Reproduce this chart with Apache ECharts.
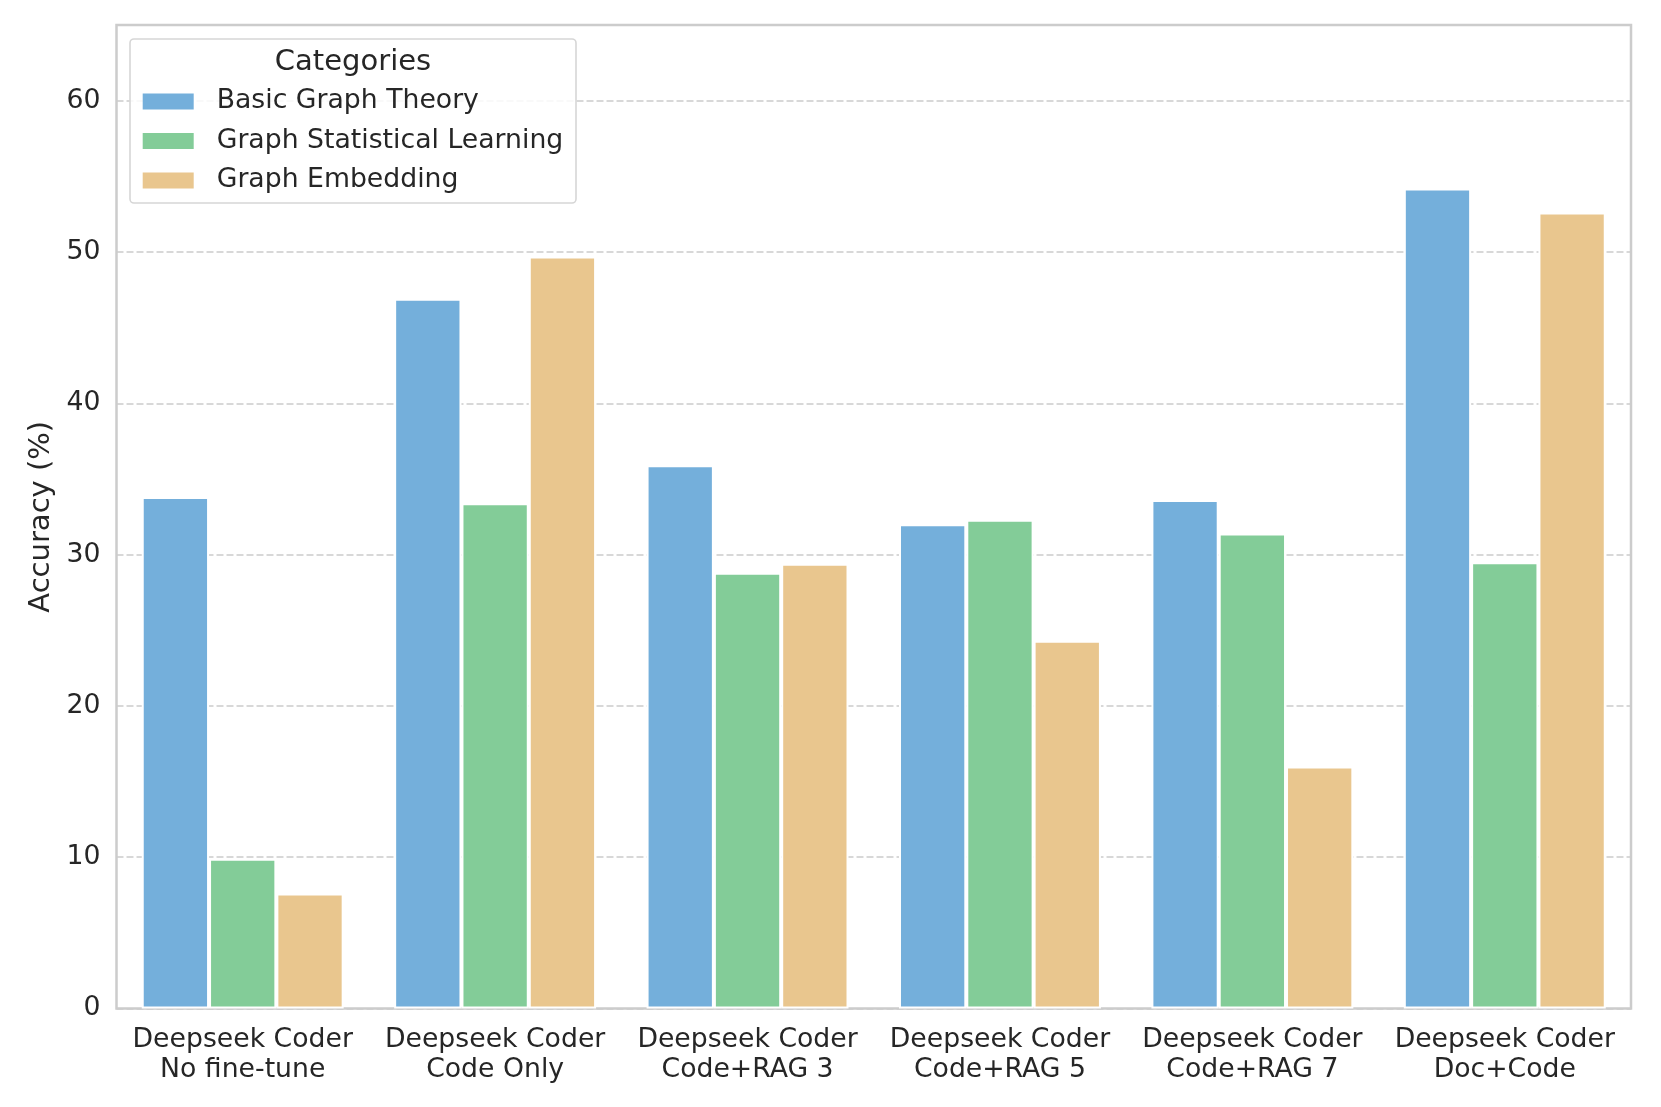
<!DOCTYPE html>
<html>
<head>
<meta charset="utf-8">
<script src="https://cdn.jsdelivr.net/npm/echarts@6/dist/echarts.min.js"></script>
<style>html,body{margin:0;padding:0;background:#fff}#c{width:1661px;height:1107px}</style>
</head>
<body>
<div id="c"></div>
<script>
const categories = [
  'Deepseek Coder\nNo fine-tune',
  'Deepseek Coder\nCode Only',
  'Deepseek Coder\nCode+RAG 3',
  'Deepseek Coder\nCode+RAG 5',
  'Deepseek Coder\nCode+RAG 7',
  'Deepseek Coder\nDoc+Code'
];
const basicGraphTheory = [33.8, 46.9, 35.9, 32.0, 33.6, 54.2];
const graphStatLearning = [9.9, 33.4, 28.8, 32.3, 31.4, 29.5];
const graphEmbedding = [7.6, 49.7, 29.4, 24.3, 16.0, 52.6];
const seriesNames = ['Basic Graph Theory', 'Graph Statistical Learning', 'Graph Embedding'];
const yTicks = [0, 10, 20, 30, 40, 50, 60];

const colors = ['#74afdb', '#83cc98', '#e9c68e'];
const font = 'DejaVu Sans';
const textColor = '#262626';

const chart = echarts.init(document.getElementById('c'));
const dataSets = [basicGraphTheory, graphStatLearning, graphEmbedding];
chart.setOption({
  animation: false,
  backgroundColor: '#fff',
  textStyle: { fontFamily: font, color: textColor },
  grid: {
    left: 116.5, right: 30, top: 25, bottom: 98.5,
    show: true, borderColor: '#cccccc', borderWidth: 2.5, backgroundColor: 'transparent', z: 1
  },
  xAxis: {
    type: 'category',
    data: categories,
    axisLine: { show: false },
    axisTick: { show: false },
    splitLine: { show: false },
    axisLabel: { interval: 0, fontFamily: font, fontSize: 26.7, color: textColor, margin: 17, lineHeight: 30 }
  },
  yAxis: {
    type: 'value',
    min: 0, max: 65, interval: 10,
    name: 'Accuracy (%)',
    nameLocation: 'middle',
    nameGap: 61,
    nameTextStyle: { fontFamily: font, fontSize: 29, color: textColor },
    axisLine: { show: false },
    axisTick: { show: false },
    axisLabel: {
      fontFamily: font, fontSize: 26.7, color: textColor, margin: 16,
      formatter: v => (yTicks.indexOf(v) >= 0 ? String(v) : '')
    },
    splitLine: { show: true, lineStyle: { color: '#cccccc', width: 1.6, type: [7, 3] } }
  },
  legend: {
    orient: 'vertical',
    left: 137.7, top: 83,
    itemWidth: 51, itemHeight: 16, itemGap: 12.5,
    icon: 'rect',
    itemStyle: { borderWidth: 0 },
    data: seriesNames,
    textStyle: { fontFamily: font, fontSize: 26.7, color: textColor, padding: [0, 0, 0, 18] },
    z: 5
  },
  graphic: [
    {
      type: 'rect', z: 3,
      shape: { x: 130, y: 39, width: 446, height: 164, r: 4 },
      style: { fill: 'rgba(255,255,255,0.85)', stroke: '#d6d6d6', lineWidth: 1.6 }
    },
    {
      type: 'text', z: 4,
      x: 353, y: 62,
      style: { text: 'Categories', fontFamily: font, fontSize: 29, fill: textColor, textAlign: 'center', textVerticalAlign: 'middle' }
    }
  ],
  series: seriesNames.map((n, i) => ({
    name: n,
    type: 'bar',
    data: dataSets[i],
    barGap: '0%',
    barCategoryGap: '20%',
    itemStyle: { color: colors[i], borderColor: '#ffffff', borderWidth: 2 },
    z: 2
  }))
});
</script>
</body>
</html>
